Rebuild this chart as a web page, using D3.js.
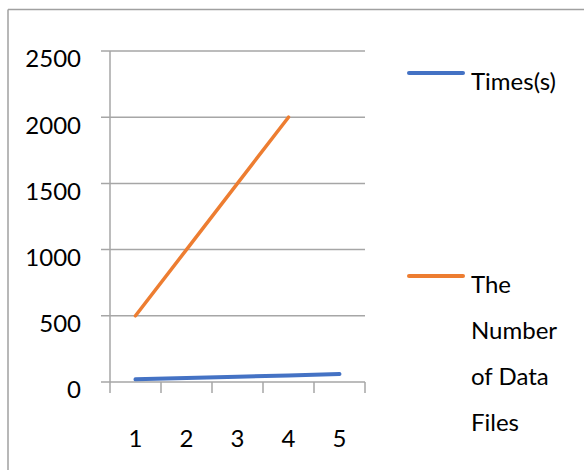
<!DOCTYPE html>
<html>
<head>
<meta charset="utf-8">
<script src="https://cdn.jsdelivr.net/npm/d3@7"></script>
<style>
  html, body { margin: 0; padding: 0; background: #fff; }
  svg { display: block; }
  text { font-family: Lato, "Open Sans", sans-serif; fill: #000; }
</style>
</head>
<body>
<svg id="chart" width="584" height="470"></svg>
<script>
// Chart data
const categories = ["1", "2", "3", "4", "5"];
const timesSeries = [20, 30, 40, 50, 60];
const filesSeries = [500, 1000, 1500, 2000, null];
const yTicks = [0, 500, 1000, 1500, 2000, 2500];
const seriesNames = ["Times(s)", "The Number of Data Files"];
const legendLines = [["Times(s)"], ["The", "Number", "of Data", "Files"]];

const colors = ["#4472C4", "#ED7D31"];
const gridColor = "#A6A6A6";
const fontSize = 24;

const svg = d3.select("#chart");

// outer frame: top and left edges
svg.append("line").attr("x1", 8).attr("x2", 584).attr("y1", 9.5).attr("y2", 9.5)
  .attr("stroke", "#A0A0A0").attr("stroke-width", 1.5);
svg.append("line").attr("x1", 8).attr("x2", 8).attr("y1", 9.5).attr("y2", 470)
  .attr("stroke", "#A0A0A0").attr("stroke-width", 1.5);

const plot = { left: 110, right: 365, top: 51, bottom: 382 };

const x = d3.scaleBand().domain(categories).range([plot.left, plot.right]);
const y = d3.scaleLinear().domain([0, 2500]).range([plot.bottom, plot.top]);

// horizontal gridlines with outward tick stubs
svg.append("g").selectAll("line").data(yTicks).join("line")
  .attr("x1", plot.left - 9).attr("x2", plot.right)
  .attr("y1", d => y(d)).attr("y2", d => y(d))
  .attr("stroke", gridColor).attr("stroke-width", 1.5);

// y axis line
svg.append("line").attr("x1", plot.left).attr("x2", plot.left)
  .attr("y1", y(2500)).attr("y2", plot.bottom + 11)
  .attr("stroke", gridColor).attr("stroke-width", 1.5);

// x axis ticks between categories
const xTickPos = categories.map(c => x(c) + x.bandwidth());
svg.append("g").selectAll("line").data(xTickPos).join("line")
  .attr("x1", d => d).attr("x2", d => d)
  .attr("y1", plot.bottom).attr("y2", plot.bottom + 11)
  .attr("stroke", gridColor).attr("stroke-width", 1.5);

// y tick labels, sitting a little below their gridlines
svg.append("g").selectAll("text").data(yTicks).join("text")
  .attr("x", 81).attr("y", d => y(d) + 8)
  .attr("dy", "0.35em").attr("text-anchor", "end")
  .attr("font-size", fontSize)
  .text(d => d);

// x tick labels
svg.append("g").selectAll("text").data(categories).join("text")
  .attr("x", d => x(d) + x.bandwidth() / 2).attr("y", 439)
  .attr("dy", "0.35em").attr("text-anchor", "middle")
  .attr("font-size", fontSize)
  .text(d => d);

// series lines
const line = d3.line()
  .defined(d => d.v != null)
  .x(d => x(d.c) + x.bandwidth() / 2)
  .y(d => y(d.v));

[timesSeries, filesSeries].forEach((s, i) => {
  svg.append("path")
    .datum(categories.map((c, j) => ({ c, v: s[j] })))
    .attr("d", line)
    .attr("fill", "none")
    .attr("stroke", colors[i])
    .attr("stroke-width", i === 0 ? 4 : 3.5)
    .attr("stroke-linecap", "round");
});

// legend
const legendY = [73, 276];
legendLines.forEach((lines, i) => {
  svg.append("line")
    .attr("x1", 409).attr("x2", 463)
    .attr("y1", legendY[i]).attr("y2", legendY[i])
    .attr("stroke", colors[i]).attr("stroke-width", 4)
    .attr("stroke-linecap", "round");
  lines.forEach((t, k) => {
    svg.append("text")
      .attr("x", 471).attr("y", legendY[i] + 9 + k * 46)
      .attr("dy", "0.35em")
      .attr("font-size", fontSize)
      .text(t);
  });
});
</script>
</body>
</html>
